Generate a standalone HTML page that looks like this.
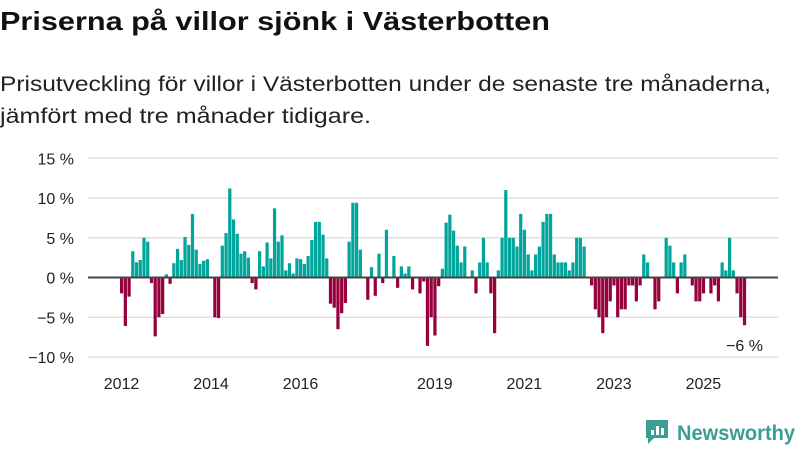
<!DOCTYPE html>
<html><head><meta charset="utf-8"><style>
html,body{margin:0;padding:0;background:#fff;width:800px;height:450px;overflow:hidden}
svg{display:block;font-family:"Liberation Sans",sans-serif}
</style></head><body>
<svg id="chart" width="800" height="450" viewBox="0 0 800 450">
<text x="0" y="30" font-size="26" font-weight="bold" fill="#111" textLength="550" lengthAdjust="spacingAndGlyphs">Priserna på villor sjönk i Västerbotten</text>
<text x="0" y="91" font-size="21" fill="#222" textLength="771" lengthAdjust="spacingAndGlyphs">Prisutveckling för villor i Västerbotten under de senaste tre månaderna,</text>
<text x="0" y="123" font-size="21" fill="#222" textLength="371" lengthAdjust="spacingAndGlyphs">jämfört med tre månader tidigare.</text>
<g id="grid"></g><g id="bars"></g><g id="xaxis"></g>
<text x="763" y="351" font-size="16" fill="#222" text-anchor="end">−6 %</text>
<g>
<path d="M646 420 h22 v18 h-14 l-6 6 v-6 h-2 z" fill="#3a9e94"/>
<rect x="651" y="430" width="3" height="5" fill="#fff"/><rect x="656" y="426" width="3" height="9" fill="#fff"/><rect x="661" y="428" width="3" height="7" fill="#fff"/>
<text x="677" y="440" font-size="21" font-weight="bold" fill="#3a9e94" textLength="118" lengthAdjust="spacingAndGlyphs">Newsworthy</text>
</g>
</svg>
<script>
const values=[-2,-6.1,-2.4,3.3,1.9,2.2,5.0,4.5,-0.7,-7.4,-5.0,-4.6,0.4,-0.8,1.8,3.6,2.2,5.1,4.1,8.0,3.5,1.7,2.1,2.3,0,-5.0,-5.1,4.0,5.6,11.2,7.3,5.5,3.0,3.3,2.5,
-0.7,-1.5,3.3,1.4,4.4,2.4,8.7,4.5,5.3,0.9,1.8,0.5,2.4,2.3,1.7,2.7,4.7,7.0,7.0,5.4,2.4,-3.3,-3.8,-6.5,-4.5,-3.2,4.5,9.4,9.4,3.5,0,-2.8,1.3,-2.3,3.0,-0.7,
6.0,0,2.7,-1.3,1.4,0.5,1.4,-1.5,0,-2.0,-0.5,-8.6,-5.0,-7.3,-1.1,1.1,6.9,7.9,5.9,4.0,1.9,3.9,0,0.9,-2.0,1.9,5.0,1.9,-2.0,-7.0,0.9,5.0,11.0,5.0,5.0,3.9,
8.0,6.0,2.9,0.9,2.9,3.9,7.0,8.0,8.0,2.9,1.9,1.9,1.9,0.9,1.9,5.0,5.0,3.9,0,-1.0,-4.0,-5.0,-7.0,-5.0,-3.0,-1.0,-5.0,-4.0,-4.0,-1.0,-1.0,-3.0,-1.0,2.9,1.9,0,
-4.0,-3.0,0,5.0,4.0,1.9,-2.0,1.9,2.9,0,-1.0,-3.0,-3.0,-2.0,0,-2.0,-1.0,-3.0,1.9,0.9,5.0,0.9,-2.0,-5.0,-6.0];
const yTicks=[15,10,5,0,-5,-10];
const yTickLabels=["15 %","10 %","5 %","0 %","−5 %","−10 %"];
const xTickYears=[2012,2014,2016,2019,2021,2023,2025];
const NS="http://www.w3.org/2000/svg";
const X0=120,STEP=3.73,startYear=2012;
function y(v){return 277.5-v*7.95;}
function xm(i){return X0+i*STEP;}
function mk(tag,attrs,parent){const e=document.createElementNS(NS,tag);for(const k in attrs)e.setAttribute(k,attrs[k]);parent.appendChild(e);return e;}
const grid=document.getElementById('grid');
yTicks.forEach((t,i)=>{
 if(t!==0){const l=mk('line',{x1:88,x2:778,y1:y(t),y2:y(t),stroke:'#e2e2e2','stroke-width':1.5},grid);
 
 }
 const tx=mk('text',{x:74,y:y(t)+6,'font-size':16,fill:'#222','text-anchor':'end'},grid);
 tx.textContent=yTickLabels[i];
 
 
});
const bars=document.getElementById('bars');
values.forEach((v,i)=>{
 const r=mk('rect',{x:xm(i),width:STEP-0.5,y:Math.min(y(v),y(0)),height:Math.abs(y(v)-y(0)),fill:v>=0?'#00a59b':'#96003c'},bars);
 
 
});
const xa=document.getElementById('xaxis');
const zl=mk('line',{x1:88,x2:778,y1:y(0),y2:y(0),stroke:'#444','stroke-width':2},xa);


xTickYears.forEach(yr=>{
 const cx=xm((yr-startYear)*12)+1.5;
 const t=mk('text',{x:cx,y:389,'font-size':16,fill:'#222','text-anchor':'middle'},xa);
 t.textContent=yr;
 
 
});
</script>
</body></html>
